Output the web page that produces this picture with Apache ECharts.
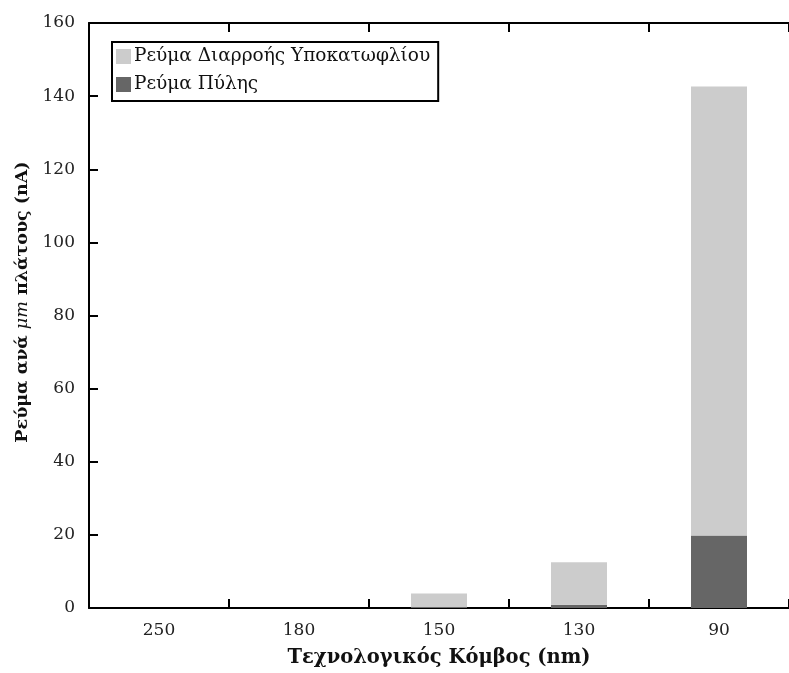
<!DOCTYPE html>
<html>
<head>
<meta charset="utf-8">
<script src="https://cdn.jsdelivr.net/npm/echarts@6/dist/echarts.min.js"></script>
<style>
html, body { margin: 0; padding: 0; background: #fff; }
#chart { width: 789px; height: 673px; }
</style>
</head>
<body>
<div id="chart"></div>
<script>
// Technology nodes (nm)
const nodes = ['250', '180', '150', '130', '90'];
// Gate leakage current per μm width (nA)
const gateCurrent = [0, 0, 0.2, 0.9, 19.8];
// Subthreshold leakage current per μm width (nA), stacked above gate current
const subthresholdCurrent = [0, 0, 3.8, 11.6, 122.8];
const yTicks = [0, 20, 40, 60, 80, 100, 120, 140, 160];

const serif = '"DejaVu Serif", "Liberation Serif", serif';
const chart = echarts.init(document.getElementById('chart'), null, { renderer: 'canvas' });

const axisLine = { show: true, lineStyle: { color: '#000', width: 2 } };
const axisTick = { show: true, inside: true, length: 9, lineStyle: { color: '#000', width: 2 } };

chart.setOption({
  animation: false,
  backgroundColor: '#fff',
  textStyle: { fontFamily: serif },
  grid: { left: 89, top: 23, width: 705, height: 589 },
  legend: {
    orient: 'vertical',
    left: 112,
    top: 42,
    itemWidth: 15,
    itemHeight: 15,
    itemGap: 9,
    padding: [5, 8, 7, 4],
    borderColor: '#000',
    borderWidth: 2,
    icon: 'rect',
    textStyle: { fontFamily: serif, fontSize: 18.5, color: '#111', padding: [0, 0, 0, -2] },
    data: ['Ρεύμα Διαρροής Υποκατωφλίου', 'Ρεύμα Πύλης']
  },
  // Y-axis title, with "μm" set in italics
  graphic: [{
    type: 'text',
    x: 22,
    y: 302,
    rotation: Math.PI / 2,
    style: {
      text: '{b|Ρεύμα ανά }{i|μm}{b| πλάτους (nA)}',
      align: 'center',
      verticalAlign: 'middle',
      rich: {
        b: { fontFamily: serif, fontSize: 17.5, fontWeight: 'bold', fill: '#111' },
        i: { fontFamily: serif, fontSize: 17.5, fontStyle: 'italic', fill: '#111' }
      }
    }
  }],
  xAxis: [
    {
      type: 'category',
      data: nodes,
      position: 'bottom',
      boundaryGap: true,
      axisLine: axisLine,
      axisTick: axisTick,
      axisLabel: { fontFamily: serif, fontSize: 17, color: '#222', margin: 14 },
      name: 'Τεχνολογικός Κόμβος (nm)',
      nameLocation: 'middle',
      nameGap: 40,
      nameTextStyle: { fontFamily: serif, fontSize: 19.5, fontWeight: 'bold', color: '#111' }
    },
    {
      type: 'category',
      data: nodes,
      position: 'top',
      boundaryGap: true,
      axisLine: axisLine,
      axisTick: axisTick,
      axisLabel: { show: false }
    }
  ],
  yAxis: {
    type: 'value',
    min: yTicks[0],
    max: yTicks[yTicks.length - 1],
    interval: yTicks[1] - yTicks[0],
    axisLine: axisLine,
    axisTick: axisTick,
    splitLine: { show: false },
    axisLabel: { fontFamily: serif, fontSize: 17, color: '#222', margin: 14 }
  },
  series: [
    {
      name: 'Ρεύμα Πύλης',
      type: 'bar',
      stack: 'leak',
      barWidth: 56,
      data: gateCurrent,
      itemStyle: { color: '#666666' }
    },
    {
      name: 'Ρεύμα Διαρροής Υποκατωφλίου',
      type: 'bar',
      stack: 'leak',
      barWidth: 56,
      data: subthresholdCurrent,
      itemStyle: { color: '#cccccc' }
    }
  ]
});
</script>
</body>
</html>
